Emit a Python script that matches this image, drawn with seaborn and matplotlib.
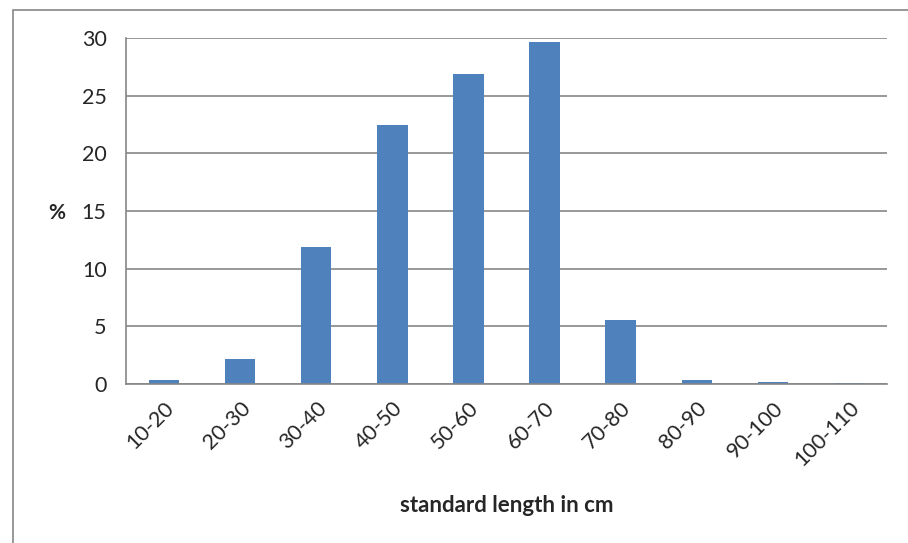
import numpy as np
import pandas as pd
import matplotlib
matplotlib.use("Agg")
import matplotlib.pyplot as plt
import seaborn as sns
from matplotlib.patches import Rectangle

categories = ["10-20", "20-30", "30-40", "40-50", "50-60", "60-70",
              "70-80", "80-90", "90-100", "100-110"]
percent = [0.35, 2.15, 11.9, 22.45, 26.85, 29.65, 5.55, 0.35, 0.2, 0.05]
yticks = [0, 5, 10, 15, 20, 25, 30]

sns.set_style("white")
plt.rcParams['font.family'] = ['Lato', 'DejaVu Sans']

df = pd.DataFrame({"cat": categories, "pct": percent})

fig = plt.figure(figsize=(9.08, 5.43), dpi=100)
ax = fig.add_axes([126/908, 1-384/543, (887-126)/908, (384-38)/543])

sns.barplot(data=df, x="cat", y="pct", color="#4F81BD", saturation=1,
            width=0.4, ax=ax, edgecolor="none")

gray = "#868686"
ax.set_ylim(0, 30)
ax.set_xlim(-0.5, len(categories)-0.5)
ax.set_yticks(yticks)
ax.set_yticklabels([str(v) for v in yticks], fontsize=15.5)
ax.yaxis.grid(True, color=gray, linewidth=1.2)
ax.set_axisbelow(True)
for s in ["top", "right"]:
    ax.spines[s].set_visible(False)
for s in ["left", "bottom"]:
    ax.spines[s].set_color(gray)
    ax.spines[s].set_linewidth(1.2)

ax.set_xticks(np.arange(len(categories)))
ax.set_xticklabels(categories, rotation=45, ha="right", rotation_mode="anchor", fontsize=15.5)
ax.set_xticks(np.arange(len(categories)+1)-0.5, minor=True)
ax.tick_params(axis="x", which="major", length=0, pad=10)
ax.tick_params(axis="x", which="minor", length=6, color=gray, width=1.2, direction="out")
ax.tick_params(axis="y", length=6, color=gray, width=1.2, direction="out", pad=8)
ax.tick_params(axis="y", which="minor", length=0)

ax.set_xlabel("standard length in cm", fontsize=16, fontweight="bold", labelpad=18)
ax.set_ylabel("")
fig.text(57/908, 1-213/543, "%", fontsize=15, fontweight="bold", ha="center", va="center")

fig.patches.append(Rectangle((13/908, -0.01), 1.05, 1-10/543+0.01, transform=fig.transFigure,
                             fill=False, edgecolor=gray, linewidth=1.2))

fig.savefig("out.png", dpi=100)
